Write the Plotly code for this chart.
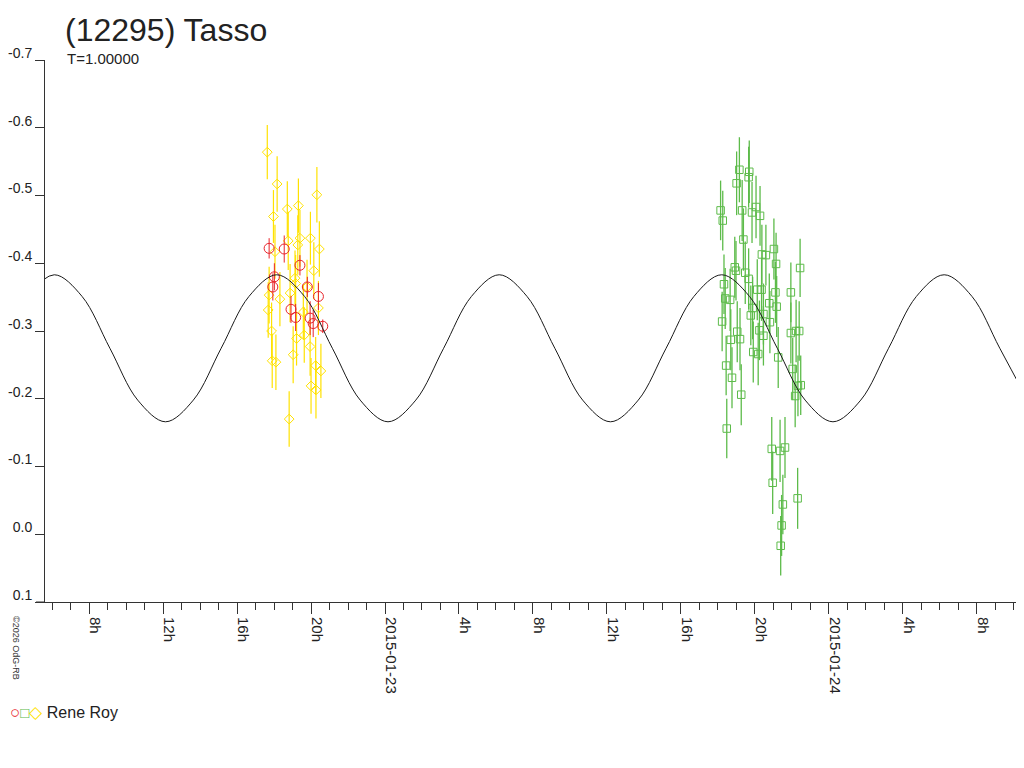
import pandas as pd
import plotly.graph_objects as go

# =========================================================================
# Data
# =========================================================================
# Yellow diamonds, night of 2015-01-22
yellow_time = [
    "17:38", "18:10", "20:19", "18:43", "19:19", "17:58", "19:58", "19:24",
    "20:27", "19:17", "18:46", "18:03", "20:09", "19:08", "17:44", "18:19",
    "18:52", "17:41", "17:52", "19:13", "19:38", "19:57", "19:02", "17:54",
    "18:06", "20:15", "20:32", "20:00", "20:16", "18:49", "19:47", "19:10",
    "19:35", "20:24",
]
yellow_mag = [
    -0.564, -0.517, -0.501, -0.480, -0.485, -0.469, -0.437, -0.437,
    -0.421, -0.427, -0.433, -0.417, -0.389, -0.378, -0.353, -0.347,
    -0.356, -0.331, -0.300, -0.289, -0.294, -0.277, -0.265, -0.256,
    -0.254, -0.249, -0.241, -0.219, -0.213, -0.170, -0.365, -0.370,
    -0.328, -0.334,
]
yellow_err = [
    0.040, 0.041, 0.041, 0.041, 0.040, 0.039, 0.039, 0.042,
    0.041, 0.044, 0.043, 0.040, 0.042, 0.041, 0.042, 0.040,
    0.043, 0.041, 0.042, 0.040, 0.041, 0.043, 0.042, 0.040,
    0.041, 0.042, 0.040, 0.041, 0.042, 0.041, 0.040, 0.042,
    0.041, 0.040,
]

# Red circles, night of 2015-01-22
red_time = [
    "17:44", "18:33", "19:24", "18:01", "17:56", "19:48",
    "20:24", "18:55", "19:10", "19:57", "20:07", "20:38",
]
red_mag = [
    -0.422, -0.421, -0.397, -0.380, -0.365, -0.365,
    -0.351, -0.332, -0.320, -0.319, -0.311, -0.307,
]
red_err = [
    0.015, 0.020, 0.015, 0.020, 0.020, 0.015,
    0.020, 0.020, 0.020, 0.025, 0.020, 0.010,
]

# Green squares, night of 2015-01-23
green_time = [
    "19:10", "19:42", "19:40", "19:01", "18:09", "19:19", "18:16", "20:04",
    "19:51", "20:17", "19:23", "21:02", "20:23", "20:36", "21:09", "22:27",
    "18:55", "18:59", "19:29", "19:40", "18:20", "20:08", "20:22", "21:07",
    "21:57", "18:24", "18:40", "20:47", "21:11", "19:53", "19:47", "20:28",
    "18:14", "20:49", "19:03", "20:15", "21:57", "22:14", "22:24", "18:42",
    "19:12", "20:28", "19:55", "20:11", "21:16", "18:27", "18:46", "22:03",
    "22:29", "22:20", "22:11", "19:16", "18:29", "20:55", "21:22", "21:38",
    "20:58", "22:19", "21:31", "21:27", "21:24",
]
green_mag = [
    -0.538, -0.535, -0.527, -0.518, -0.478, -0.478, -0.463, -0.483,
    -0.475, -0.470, -0.435, -0.421, -0.413, -0.412, -0.399, -0.393,
    -0.394, -0.389, -0.386, -0.377, -0.369, -0.361, -0.361, -0.357,
    -0.357, -0.348, -0.346, -0.341, -0.336, -0.334, -0.323, -0.325,
    -0.314, -0.313, -0.299, -0.301, -0.297, -0.300, -0.300, -0.287,
    -0.288, -0.293, -0.269, -0.266, -0.261, -0.249, -0.231, -0.244,
    -0.220, -0.219, -0.204, -0.206, -0.156, -0.126, -0.123, -0.128,
    -0.076, -0.053, -0.044, -0.013, 0.017,
]
green_err = [
    0.048, 0.046, 0.045, 0.047, 0.044, 0.045, 0.044, 0.046,
    0.045, 0.044, 0.046, 0.045, 0.044, 0.045, 0.046, 0.043,
    0.045, 0.044, 0.046, 0.045, 0.044, 0.045, 0.046, 0.045,
    0.044, 0.045, 0.046, 0.044, 0.045, 0.046, 0.044, 0.045,
    0.044, 0.046, 0.045, 0.044, 0.045, 0.046, 0.044, 0.045,
    0.046, 0.044, 0.045, 0.046, 0.045, 0.044, 0.045, 0.046,
    0.044, 0.045, 0.046, 0.045, 0.044, 0.047, 0.046, 0.045,
    0.046, 0.045, 0.044, 0.045, 0.044,
]

# Model curve, hours from 2015-01-23 00:00
model_hours = [
    -19.390, -17.886, -16.382, -14.878, -13.374, -11.870, -10.366, -8.862,
    -7.358, -5.854, -4.350, -2.846, -1.342, 0.162, 1.666, 3.170,
    4.674, 6.178, 7.682, 9.186, 10.690, 12.194, 13.698, 15.202,
    16.706, 18.210, 19.714, 21.218, 22.722, 24.226, 25.730, 27.234,
    28.738, 30.242, 31.746, 33.250, 34.754,
]
model_mag = [
    -0.351, -0.383, -0.351, -0.2745, -0.198, -0.166, -0.198, -0.2745,
    -0.351, -0.383, -0.351, -0.2745, -0.198, -0.166, -0.198, -0.2745,
    -0.351, -0.383, -0.351, -0.2745, -0.198, -0.166, -0.198, -0.2745,
    -0.351, -0.383, -0.351, -0.2745, -0.198, -0.166, -0.198, -0.2745,
    -0.351, -0.383, -0.351, -0.2745, -0.198,
]

# Axis ticks
x_tickvals = [
    "2015-01-22 08:00", "2015-01-22 12:00", "2015-01-22 16:00", "2015-01-22 20:00",
    "2015-01-23 00:00", "2015-01-23 04:00", "2015-01-23 08:00", "2015-01-23 12:00",
    "2015-01-23 16:00", "2015-01-23 20:00", "2015-01-24 00:00", "2015-01-24 04:00",
    "2015-01-24 08:00",
]
x_ticktext = [
    "8h", "12h", "16h", "20h", "2015-01-23", "4h", "8h", "12h",
    "16h", "20h", "2015-01-24", "4h", "8h",
]
y_tickvals = [-0.7, -0.6, -0.5, -0.4, -0.3, -0.2, -0.1, 0.0, 0.1]
y_ticktext = ["-0.7", "-0.6", "-0.5", "-0.4", "-0.3", "-0.2", "-0.1", "0.0", "0.1"]

# =========================================================================
# Build the figure
# =========================================================================
YELLOW = "#FFE200"
RED = "#E8232A"
GREEN = "#5DBB4A"
AXIS = "#333333"
FONT = "Liberation Sans, Arial, sans-serif"

# the page adds an 8px body margin, so the figure is shrunk to fit the window
W, H = 1016, 752
L, T = 37, 52
B = H - 594

yellow_x = pd.to_datetime(["2015-01-22 " + t for t in yellow_time])
red_x = pd.to_datetime(["2015-01-22 " + t for t in red_time])
green_x = pd.to_datetime(["2015-01-23 " + t for t in green_time])
model_x = pd.Timestamp("2015-01-23") + pd.to_timedelta(model_hours, unit="h")

fig = go.Figure()

fig.add_trace(
    go.Scatter(
        x=yellow_x,
        y=yellow_mag,
        mode="markers",
        marker=dict(symbol="diamond-open", size=7.5, color=YELLOW, line=dict(width=1)),
        error_y=dict(type="data", array=yellow_err, color=YELLOW, thickness=1.2, width=0),
    )
)

fig.add_trace(
    go.Scatter(
        x=red_x,
        y=red_mag,
        mode="markers",
        marker=dict(symbol="circle-open", size=10, color=RED, line=dict(width=1)),
        error_y=dict(type="data", array=red_err, color=RED, thickness=1, width=0),
    )
)

fig.add_trace(
    go.Scatter(
        x=green_x,
        y=green_mag,
        mode="markers",
        marker=dict(symbol="square-open", size=7.5, color=GREEN, line=dict(width=1)),
        error_y=dict(type="data", array=green_err, color=GREEN, thickness=1.3, width=0),
    )
)

fig.add_trace(
    go.Scatter(
        x=model_x,
        y=model_mag,
        mode="lines",
        line=dict(color="#1a1a1a", width=1, shape="spline", smoothing=1.0),
    )
)

fig.update_layout(
    width=W,
    height=H,
    margin=dict(l=L, r=0, t=T, b=B, pad=0),
    paper_bgcolor="white",
    plot_bgcolor="white",
    showlegend=False,
    font=dict(family=FONT, color="#222222"),
    title=dict(
        text="(12295) Tasso",
        font=dict(size=32, family=FONT, color="#222222"),
        xref="container",
        yref="container",
        x=57 / W,
        y=1 - 22 / H,
        xanchor="left",
        yanchor="middle",
    ),
)

fig.update_xaxes(
    type="date",
    range=["2015-01-22 05:36:43", "2015-01-24 10:33:32"],
    automargin=False,
    showline=True,
    linecolor=AXIS,
    linewidth=1,
    showgrid=False,
    zeroline=False,
    ticks="outside",
    ticklen=11,
    tickwidth=1,
    tickcolor=AXIS,
    tickmode="array",
    tickvals=x_tickvals,
    ticktext=x_ticktext,
    tickangle=90,
    tickfont=dict(size=15),
    ticklabelshift=6,
    minor=dict(
        ticks="outside",
        ticklen=7,
        tickwidth=1,
        tickcolor=AXIS,
        dtick=3600000,
        tick0="2015-01-22 00:00",
        showgrid=False,
    ),
)

fig.update_yaxes(
    range=[0.1, -0.7],
    automargin=False,
    showline=True,
    linecolor=AXIS,
    linewidth=1,
    showgrid=False,
    zeroline=False,
    ticks="outside",
    ticklen=9,
    tickwidth=1,
    tickcolor=AXIS,
    tickmode="array",
    tickvals=y_tickvals,
    ticktext=y_ticktext,
    tickfont=dict(size=14),
    ticklabelshift=7,
)

# x axis line runs a little past the y axis on the left
fig.add_shape(
    type="line",
    xref="paper",
    yref="paper",
    x0=-9 / 979,
    x1=0,
    y0=0,
    y1=0,
    line=dict(color=AXIS, width=1),
)

fig.add_annotation(
    text="T=1.00000",
    xref="paper",
    yref="paper",
    x=20 / 979,
    y=(602 - 58) / 542,
    xanchor="left",
    yanchor="middle",
    showarrow=False,
    font=dict(size=15),
)

fig.add_annotation(
    text="©2026 OdG-RB",
    xref="paper",
    yref="paper",
    x=-29 / 979,
    y=(602 - 648) / 542,
    xanchor="center",
    yanchor="middle",
    textangle=90,
    showarrow=False,
    font=dict(size=9, color="#333333"),
)

legend_text = (
    f'<span style="color:{RED};font-size:17px">○</span>'
    f'<span style="color:{GREEN};font-size:15px">□</span>'
    f'<span style="color:{YELLOW};font-size:17px">◇</span> Rene Roy'
)
fig.add_annotation(
    text=legend_text,
    xref="paper",
    yref="paper",
    x=-37 / 979,
    y=(602 - 712) / 542,
    xanchor="left",
    yanchor="middle",
    showarrow=False,
    font=dict(size=16),
)

fig.write_html("out.html")
